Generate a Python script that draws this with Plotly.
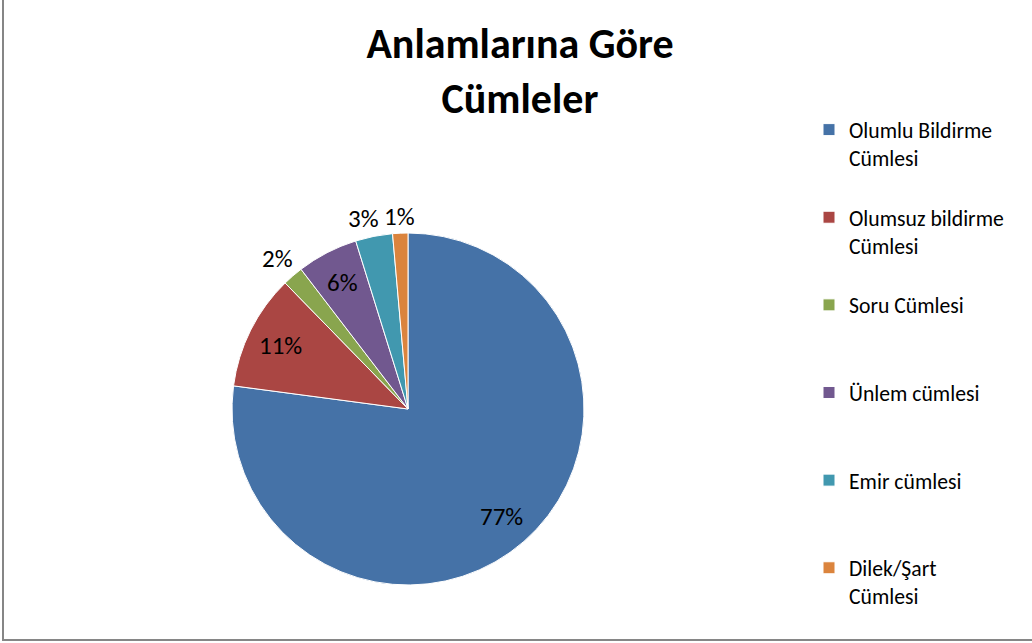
import math
import plotly.graph_objects as go

categories = ["Olumlu Bildirme<br>Cümlesi<br> ", "Olumsuz bildirme<br>Cümlesi<br> ", "Soru Cümlesi<br> <br> ",
              "Ünlem cümlesi<br> <br> ", "Emir cümlesi<br> <br> ", "Dilek/Şart<br>Cümlesi"]
values = [77.1, 10.6, 1.9, 5.6, 3.4, 1.4]
colors = ["#4572A7", "#AA4643", "#89A54E", "#71588F", "#4198AF", "#DB843D"]
label_inside = [True, True, False, True, False, False]

W, H = 1032, 643
FONT = "Calibri, Carlito, Lato, sans-serif"
dom_x = [232 / W, 584 / W]
dom_y = [1 - 585 / H, 1 - 233 / H]

fig = go.Figure(go.Pie(
    labels=categories,
    values=values,
    sort=False,
    direction="clockwise",
    rotation=0,
    marker=dict(colors=colors, line=dict(color="#FFFFFF", width=1)),
    textinfo="none",
    domain=dict(x=dom_x, y=dom_y),
    hoverinfo="label+percent",
))

# percentage labels placed from the slice angles derived from the values
cx = (dom_x[0] + dom_x[1]) / 2 * W
cy_up = (dom_y[0] + dom_y[1]) / 2 * H
R = min((dom_x[1] - dom_x[0]) * W, (dom_y[1] - dom_y[0]) * H) / 2
total = sum(values)
HW, HH, GAP = 15, 12, 6  # approximate half-size of a label box, and minimal gap

mids = []
cum = 0.0
for v in values:
    mids.append((cum + v / 2) / total * 2 * math.pi)
    cum += v

positions = [None] * len(values)
placed = []
for i in reversed(range(len(values))):
    s, c = math.sin(mids[i]), math.cos(mids[i])
    if label_inside[i]:
        r = R * 0.81
        positions[i] = (cx + r * s, cy_up + r * c)
        continue
    r = R + 4 + HW * abs(s) + HH * abs(c)
    px, py = cx + r * s, cy_up + r * c
    for (qx, qy) in placed:
        if abs(py - qy) < 2 * HH and abs(px - qx) < 2 * HW + GAP:
            px = qx - (2 * HW + GAP) if s < 0 else qx + (2 * HW + GAP)
    placed.append((px, py))
    positions[i] = (px, py)

annotations = []
for v, (px, py) in zip(values, positions):
    annotations.append(dict(x=px / W, y=py / H, xref="paper", yref="paper",
                            text=f"{round(v / total * 100)}%", showarrow=False,
                            xanchor="center", yanchor="middle",
                            font=dict(family=FONT, size=25, color="#000000")))

fig.update_layout(
    width=W, height=H,
    margin=dict(l=0, r=0, t=0, b=0),
    paper_bgcolor="#FFFFFF",
    plot_bgcolor="#FFFFFF",
    title=dict(text="<b>Anlamlarına Göre<br>Cümleler</b>", x=520 / W, xanchor="center",
               y=1 - 58 / H, yanchor="middle",
               font=dict(family=FONT, size=42, color="#000000")),
    legend=dict(x=809 / W, xanchor="left", y=1 - 109 / H, yanchor="top",
                font=dict(family=FONT, size=21.7, color="#000000"),
                valign="top", itemclick=False, tracegroupgap=0),
    annotations=annotations,
    shapes=[dict(type="rect", xref="paper", yref="paper",
                 x0=3 / W, x1=1.02, y0=1 - 640 / H, y1=1.02,
                 line=dict(color="#868686", width=2), fillcolor="rgba(0,0,0,0)")],
)

post = "document.body.style.margin='0';document.body.style.overflow='hidden';"
fig.write_html("out.html", post_script=post, config={"displayModeBar": False})
